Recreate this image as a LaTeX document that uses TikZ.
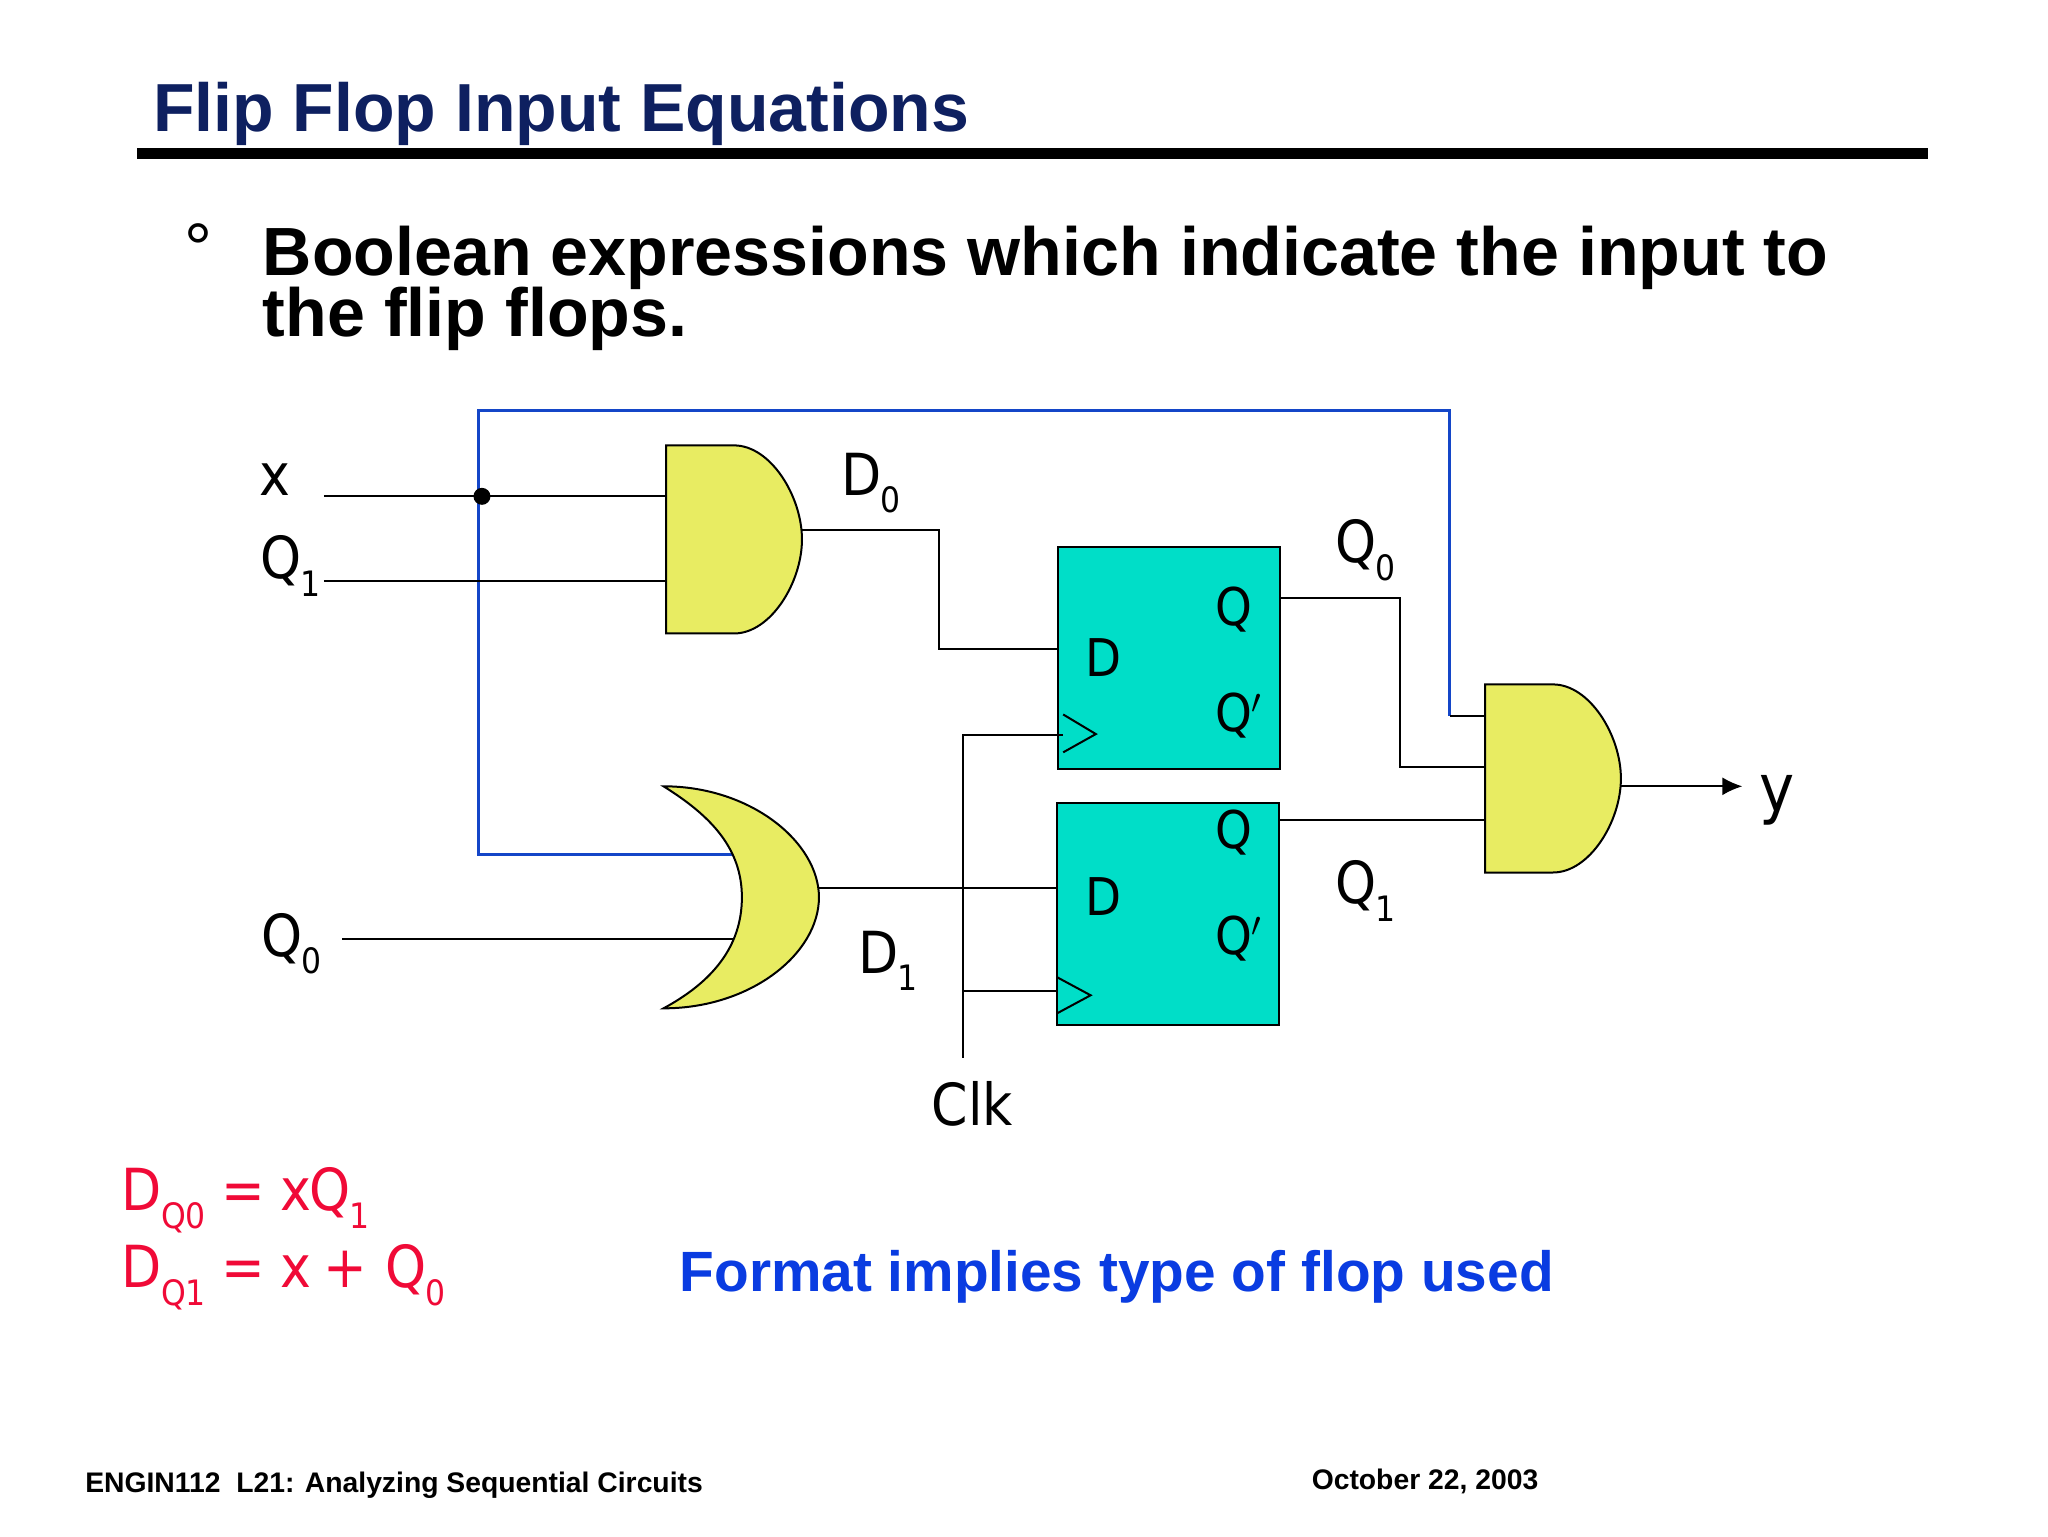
\documentclass[tikz,border=0pt]{standalone}
\usepackage{fontspec}
\setmainfont{Liberation Sans}
\newfontfamily\tah[FakeStretch=0.9]{DejaVu Sans}
\usetikzlibrary{arrows.meta}
\definecolor{navy}{RGB}{14,32,96}
\definecolor{gatey}{RGB}{232,236,98}
\definecolor{ffteal}{RGB}{0,222,200}
\definecolor{wireb}{RGB}{20,70,200}
\definecolor{eqred}{RGB}{240,10,55}
\definecolor{fmtb}{RGB}{10,60,225}
\newcommand{\lbl}[2]{{\tah #1\hspace{-0.5pt}\raisebox{-0.3em}{\fontsize{17.5}{17.5}\selectfont #2}}}
\tikzset{
  wire/.style={draw=black,line width=1pt},
  bluewire/.style={draw=wireb,line width=1.5pt},
  gateshape/.style={draw=black,fill=gatey,line width=1pt},
  ffbox/.style={draw=black,fill=ffteal,line width=1pt,minimum width=111pt,minimum height=111pt,inner sep=0pt,outer sep=0pt,anchor=north west},
  tag/.style={anchor=base west,inner sep=0pt,font=\fontsize{29}{29}\selectfont\tah},
  ftag/.style={anchor=base west,inner sep=0pt,font=\fontsize{26}{26}\selectfont\tah},
  eqtag/.style={tag,text=eqred},
  foot/.style={anchor=base west,inner sep=0pt,font=\fontsize{14.15}{14.15}\selectfont\bfseries},
}
\begin{document}
\begin{tikzpicture}[x=0.65306pt,y=-0.65306pt]
\useasboundingbox[fill=white] (0,0) rectangle (1568,1176);
% heading
\node[anchor=base west,inner sep=0pt,text=navy,font=\fontsize{34}{34}\selectfont\bfseries] (title) at (117,101) {Flip Flop Input Equations};
\fill[black] (105,113) rectangle (1476,122);
\node[anchor=base west,inner sep=0pt,font=\fontsize{35}{35}\selectfont] (bul) at (141,209) {°};
\node[anchor=base west,inner sep=0pt,align=left,font=\fontsize{34.1}{30.7}\selectfont\bfseries] (b1) at (201,258) {Boolean expressions which indicate the input to\\[-2pt]the flip flops.};
% pins
\coordinate (xin) at (248,380);
\coordinate (q1in) at (248,445);
\coordinate (q0in) at (262,719);
\coordinate (a1x) at (510,380);
\coordinate (a1q) at (510,445);
\coordinate (a1o) at (614,406);
\coordinate (orb) at (562,654);
\coordinate (orq) at (562,719);
\coordinate (oro) at (627,680);
\coordinate (a2b) at (1137,548);
\coordinate (a2q) at (1137,587);
\coordinate (a2r) at (1137,628);
\coordinate (a2o) at (1241,602);
\coordinate (yout) at (1334,602);
\coordinate (clk) at (737,810);
% blue feedback
\draw[bluewire] (orb) -- (366,654) -- (366,314) -- (1110,314) -- (1110,548);
% FFs
\node[ffbox] (ff0) at (810,419) {};
\node[ffbox] (ff1) at (809,615) {};
% input wires
\draw[wire] (xin) -- (a1x);
\draw[wire] (q1in) -- (a1q);
\draw[wire] (q0in) -- (orq);
\fill (369,380) circle (6.5);
% and1 output to ff0
\draw[wire] (a1o) -- (719,406) -- (719,497) -- (810,497);
% ff outputs
\draw[wire] (980,458) -- (1072,458) -- (1072,587) -- (a2q);
\draw[wire] (979,628) -- (a2r);
\draw[wire] (1110,548) -- (a2b);
% or output
\draw[wire] (oro) -- (809,680);
% clock
\draw[wire] (clk) -- (737,563) -- (814,563);
\draw[wire] (737,759) -- (809,759);
\draw[wire] (814,547) -- (839,562) -- (814,576);
\draw[wire] (809,748) -- (835,762) -- (809,776);
% out
\draw[wire,-{Latex[length=10pt,width=9pt]}] (a2o) -- (yout);
% gates
\path[gateshape] (510,341) -- (562,341) .. controls (590,341) and (614,380) .. (614,413) .. controls (614,446) and (590,485) .. (562,485) -- (510,485) -- cycle;
\path[gateshape] (1137,524) -- (1189,524) .. controls (1217,524) and (1241,563) .. (1241,596) .. controls (1241,629) and (1217,668) .. (1189,668) -- (1137,668) -- cycle;
\path[gateshape] (508,602) .. controls (575,602) and (627,645) .. (627,687) .. controls (627,730) and (575,772) .. (508,772) .. controls (545,752) and (568,725) .. (568,687) .. controls (568,650) and (545,625) .. (508,602) -- cycle;
% labels
\node[tag] (lx) at (198,379) {x};
\node[tag] (lq1) at (199,443) {\lbl{Q}{1}};
\node[tag] (lq0) at (200,732) {\lbl{Q}{0}};
\node[tag] (ld0) at (644,379) {\lbl{D}{0}};
\node[tag] (ld1) at (657,745) {\lbl{D}{1}};
\node[tag] (lq0o) at (1022,431) {\lbl{Q}{0}};
\node[tag] (lq1o) at (1022,692) {\lbl{Q}{1}};
\node[anchor=base west,inner sep=0pt,font=\fontsize{33}{33}\selectfont\tah] (ly) at (1347,621) {y};
\node[tag] (lclk) at (713,862) {Clk};
\node[ftag] (fd0) at (831,518) {D};
\node[ftag] (fq0) at (930,479) {Q};
\node[ftag] (fn0) at (930,560) {Q$'$};
\node[ftag] (fd1) at (831,701) {D};
\node[ftag] (fq1) at (930,650) {Q};
\node[ftag] (fn1) at (930,731) {Q$'$};
% equations
\node[eqtag] (eq1) at (93,927) {\lbl{D}{Q0}\hspace{8pt}=\hspace{7.5pt}x\hspace{-1pt}\lbl{Q}{1}};
\node[eqtag] (eq2) at (93,986) {\lbl{D}{Q1}\hspace{8pt}=\hspace{7.5pt}x\hspace{6pt}+\hspace{9pt}\lbl{Q}{0}};
\node[anchor=base west,inner sep=0pt,text=fmtb,font=\fontsize{28.4}{28.4}\selectfont\bfseries] (fmt) at (520,989) {Format implies type of flop used};
% footer
\node[foot] (fl) at (65,1143) {ENGIN112\ \ L21: Analyzing Sequential Circuits};
\node[foot] (fr) at (1004,1140) {October 22, 2003};
\end{tikzpicture}
\end{document}
